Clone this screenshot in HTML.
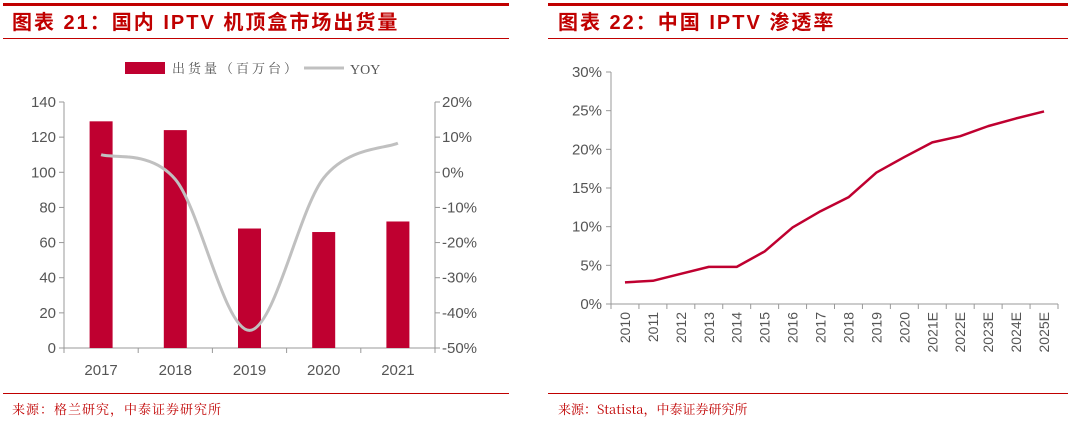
<!DOCTYPE html>
<html><head><meta charset="utf-8">
<style>
body{margin:0;background:#fff;width:1080px;height:425px;overflow:hidden;font-family:"Liberation Sans","Noto Sans CJK SC",sans-serif;}
svg{position:absolute;left:0;top:0}
</style></head>
<body>
<svg width="1080" height="425">
<g>
<rect x="3" y="3" width="506" height="3" fill="#c00000"/>
<text x="12" y="29" font-size="20" font-weight="bold" letter-spacing="2" fill="#c00000" font-family="'Liberation Sans','Noto Sans CJK SC',sans-serif">图表 21：国内 IPTV 机顶盒市场出货量</text>
<rect x="3" y="38" width="506" height="1" fill="#c00000"/>
<rect x="125" y="62" width="40" height="12" fill="#bf0030"/>
<text x="172" y="73" font-size="13" letter-spacing="3" fill="#555" font-family="'Noto Serif CJK SC',serif">出货量（百万台）</text>
<line x1="304" y1="68" x2="344" y2="68" stroke="#c0c0c0" stroke-width="3"/>
<text x="350" y="74" font-size="14" fill="#555" font-family="'Liberation Serif',serif">YOY</text>
<rect x="3" y="393" width="506" height="1" fill="#c00000"/>
<text x="12" y="414" font-size="13" letter-spacing="1" fill="#c00000" font-family="'Noto Serif CJK SC',serif">来源：格兰研究，中泰证券研究所</text>
<g id="lc"></g>
</g>
<g>
<rect x="548" y="3" width="520" height="3" fill="#c00000"/>
<text x="558" y="29" font-size="20" font-weight="bold" letter-spacing="2" fill="#c00000" font-family="'Liberation Sans','Noto Sans CJK SC',sans-serif">图表 22：中国 IPTV 渗透率</text>
<rect x="548" y="38" width="520" height="1" fill="#c00000"/>
<rect x="548" y="393" width="520" height="1" fill="#c00000"/>
<text x="558" y="414" font-size="13" fill="#c00000" font-family="'Noto Serif CJK SC',serif">来源：Statista，中泰证券研究所</text>
<g id="rc"></g>
</g>
</svg>
<script>
const years=["2017","2018","2019","2020","2021"];
const shipments=[129,124,68,66,72];
const yoy=[5,-2,-45,-1.6,8.3];
const leftTicks=[0,20,40,60,80,100,120,140];
const rightTicks=[-50,-40,-30,-20,-10,0,10,20];
const penYears=["2010","2011","2012","2013","2014","2015","2016","2017","2018","2019","2020","2021E","2022E","2023E","2024E","2025E"];
const penetration=[2.8,3.0,3.9,4.8,4.8,6.8,9.9,12,13.8,17,19,20.9,21.7,23,24,24.9];
const penTicks=[0,5,10,15,20,25,30];
const NS="http://www.w3.org/2000/svg";
function mk(p,t,a){const e=document.createElementNS(NS,t);for(const k in a)e.setAttribute(k,a[k]);p.appendChild(e);return e;}
// left chart
const lc=document.getElementById('lc');
const L0=64,R0=435,T0=102,B0=348;
const yL=v=>B0-(v/140)*(B0-T0);
const yR=v=>B0-((v+50)/70)*(B0-T0);
const cw=(R0-L0)/years.length;
const xC=i=>L0+cw*(i+0.5);
let e=mk(lc,'line',{x1:L0,y1:T0,x2:L0,y2:B0,stroke:'#999'});

e=mk(lc,'line',{x1:R0,y1:T0,x2:R0,y2:B0,stroke:'#999'});

e=mk(lc,'line',{x1:L0,y1:B0,x2:R0,y2:B0,stroke:'#999'});

leftTicks.forEach(v=>{const y=yL(v);mk(lc,'line',{x1:L0-5,y1:y,x2:L0,y2:y,stroke:'#999'});
 e=mk(lc,'text',{x:L0-8,y:y+5,'font-size':15,fill:'#555','text-anchor':'end'});e.textContent=v;
 });
rightTicks.forEach(v=>{const y=yR(v);mk(lc,'line',{x1:R0,y1:y,x2:R0+5,y2:y,stroke:'#999'});
 e=mk(lc,'text',{x:R0+7,y:y+5,'font-size':15,fill:'#555'});e.textContent=v+'%';
 });
for(let i=0;i<=years.length;i++){const x=L0+cw*i;mk(lc,'line',{x1:x,y1:B0,x2:x,y2:B0+5,stroke:'#999'});}
years.forEach((c,i)=>{
 e=mk(lc,'rect',{x:xC(i)-11.5,y:yL(shipments[i]),width:23,height:B0-yL(shipments[i]),fill:'#bf0030'});
 
 e=mk(lc,'text',{x:xC(i),y:B0+27,'font-size':15,fill:'#555','text-anchor':'middle'});e.textContent=c;
 
});
const pts=yoy.map((v,i)=>[xC(i),yR(v)]);
let d='M'+pts[0][0]+','+pts[0][1];
for(let i=0;i<pts.length-1;i++){const p0=pts[Math.max(0,i-1)],p1=pts[i],p2=pts[i+1],p3=pts[Math.min(pts.length-1,i+2)];
 const c1=[p1[0]+(p2[0]-p0[0])/6,p1[1]+(p2[1]-p0[1])/6],c2=[p2[0]-(p3[0]-p1[0])/6,p2[1]-(p3[1]-p1[1])/6];
 d+=' C'+c1+' '+c2+' '+p2;}
e=mk(lc,'path',{d:d,fill:'none',stroke:'#c0c0c0','stroke-width':3});

// right chart
const rc=document.getElementById('rc');
const L1=611,R1=1058,T1=72,B1=304;
const yP=v=>B1-(v/30)*(B1-T1);
const cw2=(R1-L1)/penYears.length;
const xP=i=>L1+cw2*(i+0.5);
e=mk(rc,'line',{x1:L1,y1:T1,x2:L1,y2:B1,stroke:'#999'});

e=mk(rc,'line',{x1:L1,y1:B1,x2:R1,y2:B1,stroke:'#999'});

penTicks.forEach(v=>{const y=yP(v);mk(rc,'line',{x1:L1-5,y1:y,x2:L1,y2:y,stroke:'#999'});
 e=mk(rc,'text',{x:L1-9,y:y+5,'font-size':15,fill:'#555','text-anchor':'end'});e.textContent=v+'%';
 });
for(let i=0;i<=penYears.length;i++){const x=L1+cw2*i;mk(rc,'line',{x1:x,y1:B1,x2:x,y2:B1+5,stroke:'#999'});}
penYears.forEach((c,i)=>{
 e=mk(rc,'text',{x:0,y:0,'font-size':14,fill:'#555','text-anchor':'end',transform:'translate('+(xP(i)+5)+','+(B1+8)+') rotate(-90)'});e.textContent=c;
 
});
e=mk(rc,'polyline',{points:penetration.map((v,i)=>xP(i)+','+yP(v)).join(' '),fill:'none',stroke:'#bf0030','stroke-width':2.5,'stroke-linejoin':'round'});

</script>
</body></html>
